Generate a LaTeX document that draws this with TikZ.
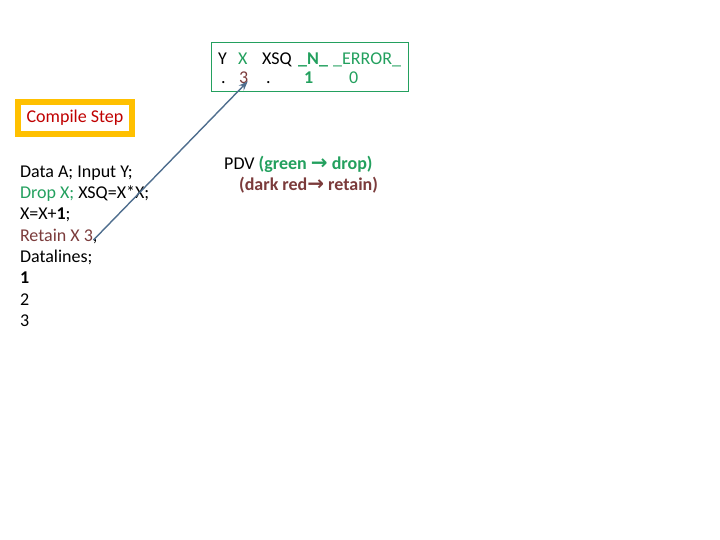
\documentclass[tikz,border=0pt]{standalone}
\usepackage{fontspec}
\setmainfont{Carlito}
\newfontfamily\symfont{DejaVu Sans}
\usetikzlibrary{arrows.meta,positioning}

\definecolor{dropgreen}{HTML}{23A05E}
\definecolor{retainred}{HTML}{7B3B3B}
\definecolor{titlered}{HTML}{C00000}
\definecolor{gold}{HTML}{FFC000}
\definecolor{linkblue}{HTML}{4F6E8E}

\newcommand{\rarr}{{\symfont\bfseries\fontsize{20}{20}\selectfont→}}

\begin{document}
\begin{tikzpicture}[
  x=1pt, y=-1pt,
  >=Stealth,
  codeline/.style={inner xsep=0pt, inner ysep=3.4pt, outer sep=0pt,
    text height=11.5pt, text depth=3pt, font=\fontsize{18}{21}\selectfont},
  cell/.style={anchor=base west, inner sep=0pt, font=\fontsize{18}{21}\selectfont},
  pdvbox/.style={rectangle, draw=dropgreen, line width=1pt,
    minimum width=197pt, minimum height=49pt},
  stepbox/.style={rectangle, draw=gold, fill=white, line width=6pt,
    minimum width=114pt, minimum height=32pt, text=titlered,
    font=\fontsize{18}{21}\selectfont},
  link/.style={draw=linkblue, line width=1.4pt, ->},
]
  \useasboundingbox (0,0) rectangle (720,540);

  % PDV table
  \node[pdvbox] (pdv) at (309.5,67.5) {};
  \node[cell] (hy) at (218,65) {Y};
  \node[cell, text=dropgreen] (hx) at (238,65) {X};
  \node[cell] (hxsq) at (262,65) {XSQ};
  \node[cell, text=dropgreen] (hn) at (298,65) {\textbf{\_N\_}};
  \node[cell, text=dropgreen] (herr) at (333,65) {\_ERROR\_};
  \node[cell] (vy) at (221,84) {.};
  \node[cell, text=retainred] (xval) at (239,84) {3};
  \node[cell] (vxsq) at (266,84) {.};
  \node[cell, text=dropgreen] (vn) at (304,84) {\textbf{1}};
  \node[cell, text=dropgreen] (verr) at (349,84) {0};

  % compile step
  \node[stepbox] (step) at (75,118) {Compile Step};

  % program
  \node[codeline, anchor=north west] (l1) at (20,162.5) {Data A; Input Y;};
  \node[codeline, below=0pt of l1.south west, anchor=north west] (l2)
    {\textcolor{dropgreen}{Drop X;} XSQ=X*X;};
  \node[codeline, below=0pt of l2.south west, anchor=north west] (l3)
    {X=X+\textbf{1};};
  \node[codeline, below=0pt of l3.south west, anchor=north west] (l4)
    {\textcolor{retainred}{Retain X 3},};
  \node[codeline, below=0pt of l4.south west, anchor=north west] (l5)
    {Datalines;};
  \node[codeline, below=0pt of l5.south west, anchor=north west] (l6)
    {\textbf{1}};
  \node[codeline, below=0pt of l6.south west, anchor=north west] (l7) {2};
  \node[codeline, below=0pt of l7.south west, anchor=north west] (l8) {3};

  % legend
  \node[cell] (leg1) at (224,170)
    {PDV \textcolor{dropgreen}{\textbf{(green \rarr{} drop)}}};
  \node[cell, text=retainred] (leg2) at (239,191)
    {\textbf{(dark red\rarr{} retain)}};

  \draw[link] ([xshift=-4pt,yshift=-3pt]l4.east) -- ([xshift=4pt,yshift=3pt]xval.south);
\end{tikzpicture}
\end{document}
